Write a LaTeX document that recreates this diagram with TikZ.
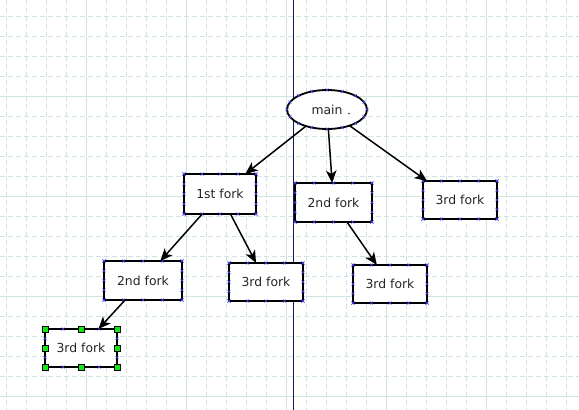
\documentclass[tikz,border=0pt]{standalone}
\usepackage{fontspec}
\setmainfont{DejaVu Sans}
\usetikzlibrary{calc,arrows.meta,shapes.geometric}
\definecolor{gridc}{RGB}{210,228,225}
\definecolor{vlinec}{RGB}{25,25,90}
\definecolor{xmarkc}{RGB}{60,60,230}
\definecolor{handlec}{RGB}{20,230,20}
\tikzset{
  fbox/.style={draw, line width=1.8pt, rectangle, inner sep=0pt, outer sep=0pt, fill=white,
    font=\fontsize{12.4}{14}\selectfont, text=black!85},
  febox/.style={fbox, ellipse},
  xmk/.style={draw=xmarkc, line width=0.5pt},
  hdl/.style={draw=black, fill=handlec, line width=0.6pt},
  conn/.style={line width=1.5pt, -{Stealth[length=12.5pt,width=10.5pt,inset=3.5pt]}},
  gdash/.style={draw=gridc, line width=1pt, dash pattern=on 5pt off 3pt},
  gsolid/.style={draw=gridc, line width=1pt},
}
\newcommand\xcross[1]{\draw[xmk] #1 +(-1.5,-1.5) -- +(1.5,1.5) +(-1.5,1.5) -- +(1.5,-1.5);}
\newcommand\rectmarks[1]{%
  \foreach \t in {0,0.25,0.5,0.75,1}{%
    \xcross{($(#1.north west)!\t!(#1.north east)$)}
    \xcross{($(#1.south west)!\t!(#1.south east)$)}
    \xcross{($(#1.north west)!\t!(#1.south west)$)}
    \xcross{($(#1.north east)!\t!(#1.south east)$)}
  }}
\begin{document}
\begin{tikzpicture}[x=1pt,y=-1pt]
\useasboundingbox (0,0) rectangle (579,410);
\fill[white] (0,0) rectangle (579,410);
% grid
\foreach \gx in {6.5,26.5,...,580}{\draw[gdash] (\gx,0) -- (\gx,410);}
\foreach \gy in {16,36,...,410}{\draw[gdash] (0,\gy) -- (579,\gy);}
\foreach \gx in {86.5,186.5,286.5,386.5,486.5}{\draw[gsolid] (\gx,0) -- (\gx,410);}
\foreach \gy in {96,196,296,396}{\draw[gsolid] (0,\gy) -- (579,\gy);}
% vertical line
\draw[vlinec, line width=1pt] (293.5,0) -- (293.5,410);
% nodes
\node[febox, minimum width=80pt, minimum height=39pt] (main) at (327,109.5) {main};
\fill[black!80] (349,113.5) circle (0.8);
\node[fbox, minimum width=72pt, minimum height=40pt] (f1) at (220,194) {1st fork};
\node[fbox, minimum width=77pt, minimum height=39pt] (f2r) at (333.5,202.5) {2nd fork};
\node[fbox, minimum width=74pt, minimum height=38pt] (f3a) at (460,200) {3rd fork};
\node[fbox, minimum width=78pt, minimum height=39pt] (f2l) at (143,280.5) {2nd fork};
\node[fbox, minimum width=74pt, minimum height=38pt] (f3m) at (266,282) {3rd fork};
\node[fbox, minimum width=74pt, minimum height=38pt] (f3b) at (390,284) {3rd fork};
\node[fbox, minimum width=72pt, minimum height=38pt] (f3s) at (81,348) {3rd fork};
% connection point marks
\foreach \a in {0,22.5,...,337.5}{\xcross{($(main.center)+({40*cos(\a)},{19.5*sin(\a)})$)}}
\rectmarks{f1}
\rectmarks{f2r}
\rectmarks{f3a}
\rectmarks{f2l}
\rectmarks{f3m}
\rectmarks{f3b}
\rectmarks{f3s}
% connectors
\draw[conn] (main) -- (f1);
\draw[conn] (main) -- (f2r);
\draw[conn] (main) -- ($(f3a.north west)+(4,0)$);
\draw[conn] (f1) -- (f2l);
\draw[conn] (f1) -- (f3m);
\draw[conn] (f2r) -- (f3b);
\draw[conn] (f2l) -- (f3s);
% selection handles
\foreach \p in {north west,north,north east,east,south east,south,south west,west}{%
  \draw[hdl] (f3s.\p) +(-3,-3) rectangle +(3,3);}
\end{tikzpicture}
\end{document}
